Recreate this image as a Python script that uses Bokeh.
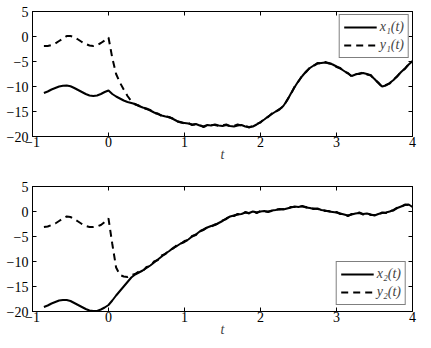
from bokeh.plotting import figure
from bokeh.layouts import column
from bokeh.models import LinearAxis, FixedTicker, Legend, LegendItem, Range1d
from bokeh.embed import file_html
from bokeh.resources import INLINE

# ---- data ----
t = [-0.85, -0.80, -0.75, -0.70, -0.65, -0.60, -0.55, -0.50, -0.45, -0.40,
     -0.35, -0.30, -0.25, -0.20, -0.15, -0.10, -0.05, 0.00, 0.05, 0.10,
     0.15, 0.20, 0.25, 0.30, 0.35, 0.40, 0.45, 0.50, 0.55, 0.60,
     0.65, 0.70, 0.75, 0.80, 0.85, 0.90, 0.95, 1.00, 1.05, 1.10,
     1.15, 1.20, 1.25, 1.30, 1.35, 1.40, 1.45, 1.50, 1.55, 1.60,
     1.65, 1.70, 1.75, 1.80, 1.85, 1.90, 1.95, 2.00, 2.05, 2.10,
     2.15, 2.20, 2.25, 2.30, 2.35, 2.40, 2.45, 2.50, 2.55, 2.60,
     2.65, 2.70, 2.75, 2.80, 2.85, 2.90, 2.95, 3.00, 3.05, 3.10,
     3.15, 3.20, 3.25, 3.30, 3.35, 3.40, 3.45, 3.50, 3.55, 3.60,
     3.65, 3.70, 3.75, 3.80, 3.85, 3.90, 3.95, 4.00]

x1 = [-11.3, -11.0, -10.6, -10.3, -10.0, -9.85, -9.8, -9.95, -10.3, -10.7,
      -11.1, -11.5, -11.8, -11.9, -11.8, -11.5, -11.1, -10.8, -11.5, -12.0,
      -12.4, -12.8, -13.1, -13.3, -13.5, -13.9, -14.2, -14.4, -14.8, -15.2,
      -15.5, -15.8, -16.0, -16.1, -16.5, -16.9, -17.2, -17.3, -17.4, -17.6,
      -17.5, -17.8, -18.0, -17.7, -17.8, -17.6, -17.8, -17.9, -17.7, -17.9,
      -18.0, -17.8, -17.7, -18.0, -18.1, -18.0, -17.6, -17.1, -16.6, -16.0,
      -15.5, -15.0, -14.6, -13.9, -12.8, -11.4, -10.1, -8.9, -7.9, -7.0,
      -6.3, -5.8, -5.4, -5.3, -5.2, -5.3, -5.6, -6.0, -6.4, -6.9,
      -7.4, -7.9, -7.6, -7.4, -7.3, -7.5, -7.8, -8.5, -9.3, -10.0,
      -9.8, -9.3, -8.7, -7.9, -7.1, -6.4, -5.6, -4.9]

y1 = [-1.9, -1.9, -1.7, -1.4, -0.9, -0.4, 0.1, 0.1, -0.1, -0.6,
      -1.1, -1.5, -1.8, -1.9, -1.7, -1.3, -0.8, -0.2, -4.3, -7.5,
      -9.2, -10.6, -11.9, -12.9, -13.6, -13.8, -14.3, -14.5, -14.7, -15.3,
      -15.4, -15.9, -15.9, -16.2, -16.4, -17.0, -17.1, -17.4, -17.3, -17.7,
      -17.6, -17.7, -18.1, -17.8, -17.7, -17.7, -17.9, -17.8, -17.6, -18.0,
      -17.9, -17.6, -17.8, -17.9, -18.2, -17.9, -17.5, -17.2, -16.5, -16.1,
      -15.4, -15.1, -14.5, -14.0, -12.7, -11.5, -10.0, -9.0, -7.8, -7.1,
      -6.2, -5.9, -5.3, -5.4, -5.1, -5.4, -5.5, -6.1, -6.3, -7.0,
      -7.3, -8.0, -7.5, -7.5, -7.2, -7.6, -7.7, -8.6, -9.2, -10.1,
      -9.7, -9.4, -8.6, -8.0, -7.0, -6.5, -5.5, -5.1]

x2 = [-19.1, -18.8, -18.4, -18.1, -17.8, -17.7, -17.7, -17.9, -18.3, -18.7,
      -19.1, -19.5, -19.8, -19.9, -19.9, -19.6, -19.2, -18.7, -17.8, -16.8,
      -15.9, -15.0, -14.1, -13.2, -12.6, -12.2, -11.8, -11.3, -10.8, -10.2,
      -9.6, -9.0, -8.4, -7.9, -7.3, -6.9, -6.4, -6.1, -5.6, -5.0,
      -4.6, -4.0, -3.6, -3.2, -2.9, -2.7, -2.3, -1.9, -1.4, -1.0,
      -0.8, -0.6, -0.5, -0.2, -0.3, 0.0, -0.2, 0.0, 0.1, -0.1,
      0.2, 0.3, 0.5, 0.4, 0.6, 0.8, 1.0, 0.9, 1.1, 0.8,
      0.7, 0.5, 0.6, 0.3, 0.2, 0.0, -0.1, -0.2, -0.4, -0.6,
      -0.8, -0.6, -0.4, -0.3, -0.5, -0.4, -0.6, -0.8, -0.5, -0.3,
      -0.2, 0.0, 0.3, 0.7, 1.0, 1.3, 1.4, 0.9]

y2 = [-3.1, -3.0, -2.7, -2.4, -1.9, -1.4, -1.0, -1.1, -1.5, -2.0,
      -2.5, -2.9, -3.1, -3.1, -3.0, -2.7, -2.1, -1.4, -6.5, -11.2,
      -12.7, -13.0, -13.1, -12.7, -12.5, -12.0, -11.9, -11.1, -10.9, -10.0,
      -9.7, -8.8, -8.5, -7.7, -7.4, -6.7, -6.5, -5.9, -5.7, -4.9,
      -4.7, -3.9, -3.7, -3.1, -3.0, -2.6, -2.4, -1.8, -1.5, -0.9,
      -0.9, -0.5, -0.6, -0.1, -0.4, 0.1, -0.3, 0.1, 0.0, 0.0,
      0.1, 0.4, 0.4, 0.5, 0.5, 0.9, 0.9, 1.0, 1.0, 0.9,
      0.6, 0.6, 0.5, 0.4, 0.1, 0.1, -0.2, -0.1, -0.5, -0.5,
      -0.9, -0.5, -0.5, -0.2, -0.6, -0.3, -0.7, -0.7, -0.6, -0.2,
      -0.3, 0.1, 0.2, 0.8, 0.9, 1.4, 1.3, 1.0]

x_ticks = [-1, 0, 1, 2, 3, 4]
y_ticks = [-20, -15, -10, -5, 0, 5]
x_title = "t"

FONT = "Liberation Serif"


def fmt(v):
    return str(v).replace("-", "\u2212")


def style_axis(ax, ticks, labels=True):
    ax.ticker = FixedTicker(ticks=ticks)
    ax.major_tick_in = 4
    ax.major_tick_out = 0
    ax.minor_tick_in = 0
    ax.minor_tick_out = 0
    ax.minor_tick_line_color = None
    ax.axis_line_color = "black"
    ax.major_tick_line_color = "black"
    ax.axis_line_width = 1
    if labels:
        ax.major_label_text_font = FONT
        ax.major_label_text_font_size = "14px"
        ax.major_label_text_color = "black"
        ax.major_label_overrides = {float(v): fmt(v) for v in ticks}
    else:
        ax.major_label_text_color = None
        ax.major_label_overrides = {float(v): "" for v in ticks}
        ax.major_label_standoff = 0


def make_fig(xs, ya, yb, la, lb, top_border, bottom_border, legend_loc, legend_margin):
    p = figure(width=431, height=top_border + 125 + bottom_border,
               x_range=Range1d(-1, 4), y_range=Range1d(-20, 5),
               output_backend="svg", toolbar_location=None,
               min_border_left=32, min_border_right=19,
               min_border_top=top_border, min_border_bottom=bottom_border)
    p.xgrid.visible = False
    p.ygrid.visible = False
    p.outline_line_color = "black"
    p.background_fill_color = "white"
    p.border_fill_color = "white"

    style_axis(p.xaxis[0], x_ticks)
    style_axis(p.yaxis[0], y_ticks)
    p.xaxis[0].major_label_standoff = 0
    p.yaxis[0].major_label_standoff = 4
    p.xaxis[0].axis_label = x_title
    p.xaxis[0].axis_label_text_font = FONT
    p.xaxis[0].axis_label_text_font_style = "italic"
    p.xaxis[0].axis_label_text_font_size = "14px"
    p.xaxis[0].axis_label_standoff = -3

    top = LinearAxis()
    style_axis(top, x_ticks, labels=False)
    p.add_layout(top, "above")
    right = LinearAxis()
    style_axis(right, y_ticks, labels=False)
    p.add_layout(right, "right")

    ra = p.line(xs, ya, line_color="black", line_width=2)
    rb = p.line(xs, yb, line_color="black", line_width=2, line_dash="7 5")

    leg = Legend(items=[LegendItem(label=la, renderers=[ra]),
                        LegendItem(label=lb, renderers=[rb])],
                 location=legend_loc)
    leg.border_line_color = "black"
    leg.border_line_width = 1
    leg.background_fill_alpha = 1
    leg.label_text_font = FONT
    leg.label_text_font_style = "italic"
    leg.label_text_font_size = "14px"
    leg.glyph_width = 33
    leg.glyph_height = 14
    leg.label_standoff = 3
    leg.padding = 4
    leg.spacing = 2
    leg.margin = legend_margin
    p.add_layout(leg)
    return p


p1 = make_fig(t, x1, y1, "x\u2081(t)", "y\u2081(t)", 11, 32, "top_right", 3)
p2 = make_fig(t, x2, y2, "x\u2082(t)", "y\u2082(t)", 18, 37, "bottom_right", 6)

layout = column(p1, p2, spacing=0)
open("out.html", "w").write(file_html(layout, INLINE))
